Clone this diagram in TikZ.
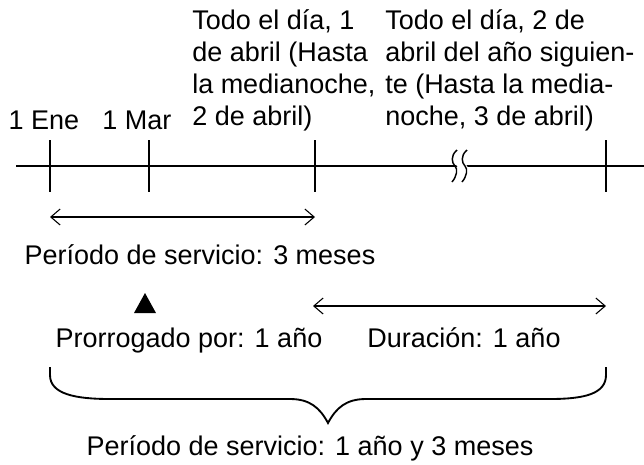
\documentclass[tikz,border=0pt]{standalone}
\usepackage{fontspec}
\setmainfont{Liberation Sans}
\usetikzlibrary{arrows.meta}

\begin{document}
\begin{tikzpicture}[
    x=0.75pt, y=-0.75pt,
    lbl/.style={inner sep=0pt, font=\fontsize{20.25}{24}\selectfont},
    blk/.style={lbl, align=left, anchor=north west},
    timeline/.style={line width=1.5pt},
    tickmark/.style={line width=1.1pt},
    spanarr/.style={line width=0.8pt, {Straight Barb[length=7pt,width=12pt]}-{Straight Barb[length=7pt,width=12pt]}},
    brace/.style={line width=1.4pt}
]
\useasboundingbox (0,0) rectangle (644,465);
% points on the time line
\coordinate (start) at (16,166);
\coordinate (tJan) at (50,166);
\coordinate (tMar) at (149,166);
\coordinate (tApr) at (315,166);
\coordinate (tBrk) at (460,166);
\coordinate (tNext) at (606,166);
\coordinate (end) at (644,166);

\draw[timeline] (start) -- (end);
\foreach \p in {tJan,tMar,tApr,tNext}
    \draw[tickmark] (\p) ++(0,-26) -- ++(0,52);
% break in the time line
\fill[white] (tBrk) ++(-3,-16) .. controls ++(-7,6) and ++(-3,-3) .. ++(0,16)
    .. controls ++(3,3) and ++(5,-6) .. ++(-3,16) -- ++(10,0)
    .. controls ++(5,-6) and ++(3,3) .. ++(3,-16)
    .. controls ++(-3,-3) and ++(-7,6) .. ++(0,-16) -- cycle;
\foreach \dx in {-5,5}
    \draw[line width=1.1pt] (tBrk) ++(\dx,0) ++(2,-16) .. controls ++(-7,6) and ++(-3,-3) .. ++(-2,16)
        .. controls ++(3,3) and ++(5,-6) .. ++(-3,16);

% labels above the line
\node[lbl, anchor=base] (lEne) at (44,129) {1 Ene};
\node[lbl, anchor=base] (lMar) at (137,129) {1 Mar};
\node[blk] (lApr) at (192,9) {Todo el día, 1\\de abril (Hasta\\la medianoche,\\2 de abril)};
\node[blk] (lNext) at (385,9) {Todo el día, 2 de\\abril del año siguien-\\te (Hasta la media-\\noche, 3 de abril)};

% periods
\draw[spanarr] (tJan |- 0,217) -- (tApr |- 0,217);
\node[lbl, anchor=base] (pThree) at (200,264) {Período de servicio: 3 meses};

\fill (134,313) -- (145,293) -- (156,313) -- cycle;
\node[lbl, anchor=base] (pExt) at (189,347) {Prorrogado por: 1 año};
\draw[spanarr] (313,306) -- (tNext |- 0,306);
\node[lbl, anchor=base] (pDur) at (464,347) {Duración: 1 año};

\draw[brace] (tJan |- 0,367) -- (50,375) .. controls (50,394) and (75,399) .. (110,399)
    -- (290,399) .. controls (310,399) and (320,408) .. (328,423)
    .. controls (336,408) and (346,399) .. (366,399) -- (550,399)
    .. controls (584,399) and (606,394) .. (606,375) -- (tNext |- 0,367);
\node[lbl, anchor=base] (pAll) at (310,455) {Período de servicio: 1 año y 3 meses};
\end{tikzpicture}
\end{document}
